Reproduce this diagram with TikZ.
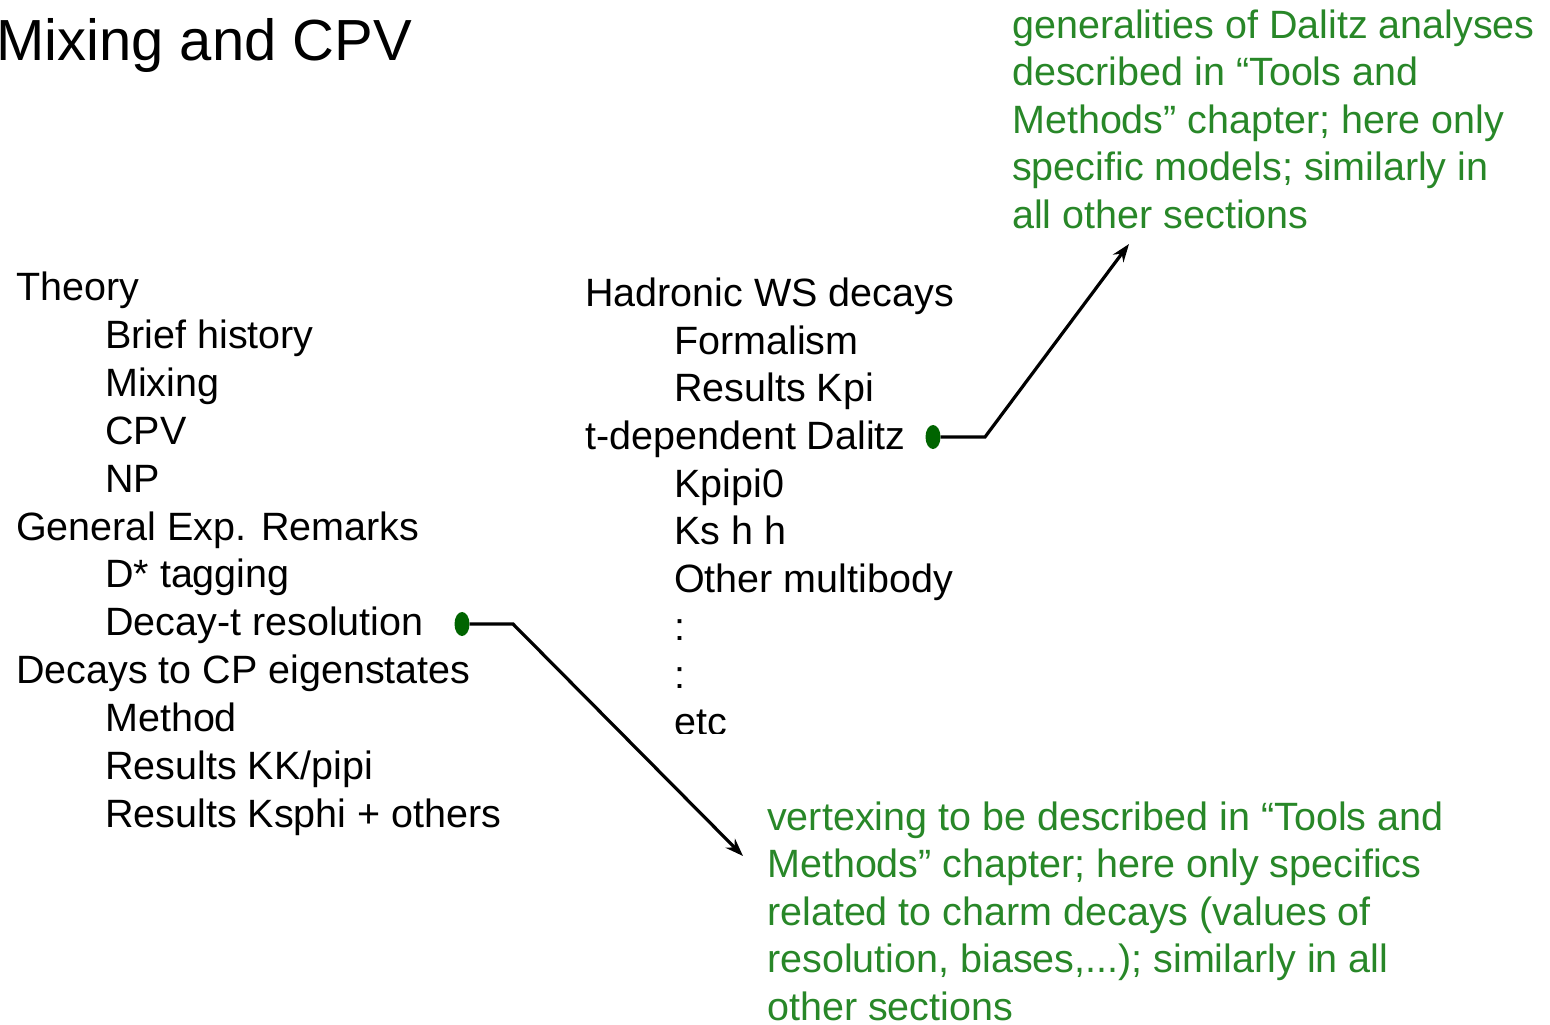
\documentclass[tikz,border=0pt]{standalone}
\usepackage{fontspec}
\setmainfont{Liberation Sans}
\usetikzlibrary{shapes.geometric,arrows.meta}
\definecolor{notegreen}{RGB}{40,135,40}
\definecolor{dotgreen}{RGB}{0,100,0}

\begin{document}
\begin{tikzpicture}[x=1pt, y=-1pt]
            \tikzstyle{item}=[anchor=base west,inner sep=0pt,font=\fontsize{39.5}{48}\selectfont]
            \tikzstyle{note}=[item,text=notegreen,align=left,font=\fontsize{39.5}{47.5}\selectfont]
            \tikzstyle{marker}=[ellipse,fill=dotgreen,minimum width=15pt,minimum height=24pt,inner sep=0pt]
            \tikzstyle{pointer}=[line width=3.2pt,-{Stealth[length=18pt,width=13pt]}]
            \useasboundingbox (0,0) rectangle (1550,1025);

            \node[item,font=\fontsize{58}{64}\selectfont] (T) at (-4,60) {Mixing and CPV};

            % left column
            \node[item] (L_1) at (16,300)  {Theory};
            \node[item] (L_2) at (105,348)  {Brief history};
            \node[item] (L_3) at (105,396)  {Mixing};
            \node[item] (L_4) at (105,444)  {CPV};
            \node[item] (L_5) at (105,492)  {NP};
            \node[item] (L_6) at (16,540)  {General Exp. Remarks};
            \node[item] (L_7) at (105,587)  {D* tagging};
            \node[item] (L_8) at (105,635)  {Decay-t resolution};
            \node[item] (L_9) at (16,683)  {Decays to CP eigenstates};
            \node[item] (L_10) at (105,731)  {Method};
            \node[item] (L_11) at (105,779)  {Results KK/pipi};
            \node[item] (L_12) at (105,827)  {Results Ksphi + others};

            % right column
            \node[item] (R_1) at (585,306)  {Hadronic WS decays};
            \node[item] (R_2) at (674,354)  {Formalism};
            \node[item] (R_3) at (674,401)  {Results Kpi};
            \node[item] (R_4) at (585,449)  {t-dependent Dalitz};
            \node[item] (R_5) at (674,497)  {Kpipi0};
            \node[item] (R_6) at (674,544)  {Ks h h};
            \node[item] (R_7) at (674,592)  {Other multibody};
            \node[item] (R_8) at (674,640)  {:};
            \node[item] (R_9) at (674,688)  {:};
            \begin{scope}
                \clip (600,700) rectangle (900,733);
                \node[item] (R_10) at (674,735)  {etc};
            \end{scope}

            % notes (anchored at the last line)
            \node[note] (N_1) at (1012,228) {generalities of Dalitz analyses\\described in “Tools and\\Methods” chapter; here only\\specific models; similarly in\\all other sections};
            \node[note] (N_2) at (767,1020) {vertexing to be described in “Tools and\\Methods” chapter; here only specifics\\related to charm decays (values of\\resolution, biases,...); similarly in all\\other sections};

            % pointers
            \node[marker] (M_1) at (933,437) {};
            \node[marker] (M_2) at (462,624) {};
            \coordinate (B_1) at (985,437);
            \coordinate (B_2) at (513,624);
            \coordinate (E_1) at (1129,244);
            \coordinate (E_2) at (743,856);

            \draw[pointer] (M_1.east) -- (B_1) -- (E_1);
            \draw[pointer] (M_2.east) -- (B_2) -- (E_2);
        \end{tikzpicture}
\end{document}
